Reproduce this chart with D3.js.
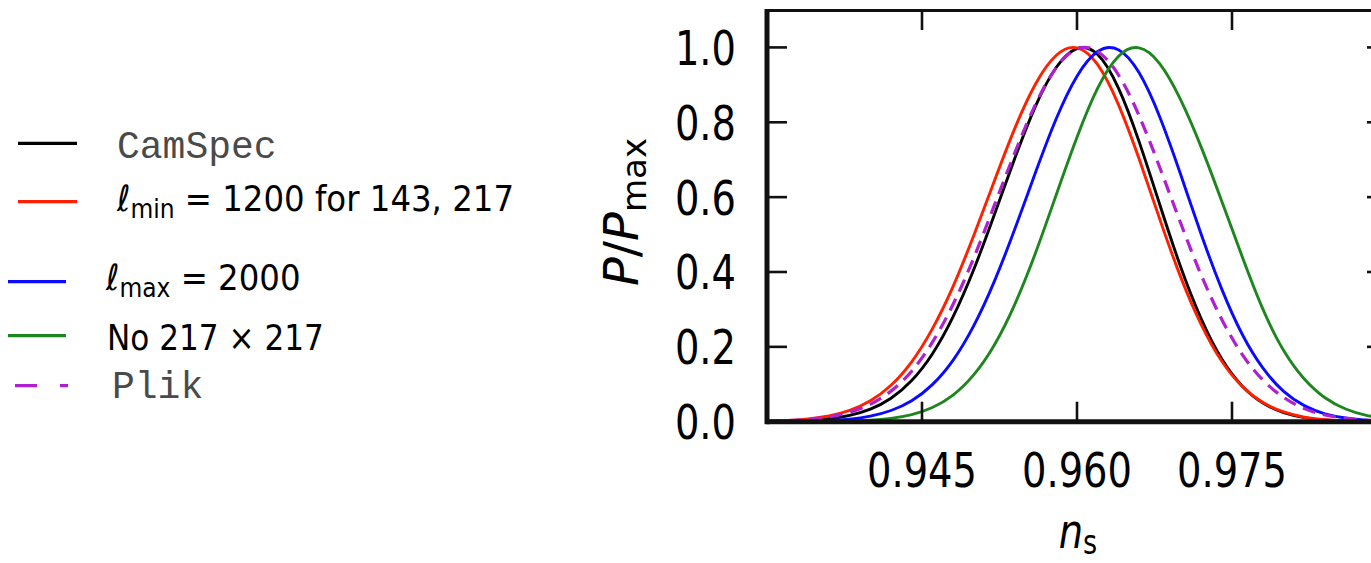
<!DOCTYPE html>
<html><head><meta charset="utf-8">
<script src="https://cdn.jsdelivr.net/npm/d3@7"></script>
<style>html,body{margin:0;padding:0;background:#fff;overflow:hidden}</style>
</head><body>
<svg id="chart" width="1371" height="563"></svg>
<script>
// ---- data ----
const nsGrid = [0.930,0.932,0.934,0.936,0.938,0.940,0.942,0.944,0.946,0.948,0.950,0.952,0.954,0.956,0.958,0.960,0.962,0.964,0.966,0.968,0.970,0.972,0.974,0.976,0.978,0.980,0.982,0.984,0.986,0.988,0.990];
const camspec = [0.0006,0.0014,0.0035,0.0078,0.0167,0.0334,0.0626,0.110,0.181,0.280,0.406,0.553,0.705,0.844,0.947,0.997,0.981,0.892,0.749,0.581,0.416,0.276,0.168,0.095,0.050,0.024,0.011,0.0044,0.0017,0.0006,0.0002];
const lmin1200 = [0.0014,0.0033,0.0074,0.0153,0.0302,0.0558,0.0973,0.160,0.248,0.361,0.497,0.643,0.785,0.903,0.979,0.999,0.954,0.848,0.703,0.542,0.389,0.261,0.162,0.094,0.051,0.026,0.012,0.0052,0.0021,0.0008,0.0003];
const lmax2000 = [0.0002,0.0005,0.0013,0.0031,0.0070,0.0149,0.0299,0.056,0.099,0.164,0.256,0.375,0.516,0.667,0.810,0.923,0.989,0.994,0.933,0.815,0.663,0.502,0.355,0.233,0.143,0.081,0.043,0.021,0.0099,0.0042,0.0017];
const no217 = [0.0000,0.0001,0.0002,0.0006,0.0015,0.0038,0.0088,0.0189,0.0379,0.0712,0.125,0.205,0.315,0.452,0.607,0.760,0.891,0.976,0.999,0.957,0.862,0.735,0.590,0.440,0.300,0.190,0.114,0.064,0.034,0.017,0.008];
const plik = [0.0012,0.0028,0.0062,0.0128,0.0251,0.0466,0.0817,0.135,0.212,0.313,0.437,0.578,0.720,0.849,0.946,0.996,0.989,0.927,0.818,0.680,0.533,0.393,0.274,0.179,0.111,0.065,0.035,0.018,0.009,0.004,0.002];
const xTicks = [0.945, 0.960, 0.975];
const yTicks = [0.0, 0.2, 0.4, 0.6, 0.8, 1.0];
const xDomain = [0.930, 0.990];
const yDomain = [0, 1.1];

const series = [
  {name: "camspec", values: camspec, color: "#000000", dash: null},
  {name: "lmin", values: lmin1200, color: "#ff2000", dash: null},
  {name: "lmax", values: lmax2000, color: "#0a0aff", dash: null},
  {name: "no217", values: no217, color: "#1e861e", dash: null},
  {name: "plik", values: plik, color: "#b020d0", dash: "13,8"}
];

const svg = d3.select("#chart");
const x = d3.scaleLinear().domain(xDomain).range([767, 1387]);
const y = d3.scaleLinear().domain(yDomain).range([421.7, 10]);
const FONT = "'DejaVu Sans', sans-serif";

// curves
const line = d3.line().x((d,i)=>x(nsGrid[i])).y(d=>y(d)).curve(d3.curveNatural);
const gCurves = svg.append("g");
series.forEach(s => {
  gCurves.append("path").attr("d", line(s.values))
    .attr("fill","none").attr("stroke", s.color).attr("stroke-width", s.dash ? 3.2 : 2.9)
    .attr("stroke-dasharray", s.dash);
});

// frame
const gAx = svg.append("g").attr("stroke", "#111");
gAx.append("line").attr("x1", x.range()[0]).attr("x2", x.range()[1]).attr("y1", y(yDomain[1])+0.5).attr("y2", y(yDomain[1])+0.5).attr("stroke-width", 3);
gAx.append("line").attr("x1", x.range()[1]).attr("x2", x.range()[1]).attr("y1", y(yDomain[1])).attr("y2", y(0)).attr("stroke-width", 3);
gAx.append("line").attr("x1", x.range()[0]).attr("x2", x.range()[1]+3).attr("y1", y(0)).attr("y2", y(0)).attr("stroke-width", 5);
gAx.append("line").attr("x1", x.range()[0]).attr("x2", x.range()[0]).attr("y1", y(yDomain[1])-1).attr("y2", y(0)+2.5).attr("stroke-width", 5);

// ticks
const TL = 20;
yTicks.forEach(t => {
  gAx.append("line").attr("x1", x.range()[0]).attr("x2", x.range()[0]+TL).attr("y1", y(t)).attr("y2", y(t)).attr("stroke-width", 2.6);
  gAx.append("line").attr("x1", x.range()[1]).attr("x2", x.range()[1]-TL).attr("y1", y(t)).attr("y2", y(t)).attr("stroke-width", 2.6);
});
xTicks.forEach(t => {
  gAx.append("line").attr("x1", x(t)).attr("x2", x(t)).attr("y1", y(0)).attr("y2", y(0)-TL).attr("stroke-width", 2.6);
  gAx.append("line").attr("x1", x(t)).attr("x2", x(t)).attr("y1", y(yDomain[1])).attr("y2", y(yDomain[1])+TL).attr("stroke-width", 2.6);
});

// tick labels (horizontally condensed like the reference)
const SX = 0.8;
yTicks.forEach(t => {
  svg.append("text").attr("transform", `translate(736,${y(t)+17.5}) scale(${SX},1)`)
    .attr("text-anchor","end").attr("font-family",FONT).attr("font-size",48).attr("fill","#000")
    .text(d3.format(".1f")(t));
});
xTicks.forEach(t => {
  svg.append("text").attr("transform", `translate(${x(t)},487) scale(${SX},1)`)
    .attr("text-anchor","middle").attr("font-family",FONT).attr("font-size",48).attr("fill","#000")
    .text(d3.format(".3f")(t));
});

// axis labels
const yl = svg.append("text").attr("transform","translate(638,212) rotate(-90)")
  .attr("text-anchor","middle").attr("font-family",FONT).attr("font-size",48).attr("fill","#000");
yl.append("tspan").attr("font-style","italic").text("P");
yl.append("tspan").text("/");
yl.append("tspan").attr("font-style","italic").text("P");
yl.append("tspan").attr("font-size",34).attr("dy",8).text("max");

const xl = svg.append("text").attr("transform","translate(1078,548) scale(0.8,1)")
  .attr("text-anchor","middle").attr("font-family",FONT).attr("font-size",48).attr("fill","#000");
xl.append("tspan").attr("font-style","italic").text("n");
xl.append("tspan").attr("font-size",34).attr("dy",6).text("s");

// legend
const legendItems = [
  {x1:18, x2:77, ly:143.3, tx:117, ty:158, color:"#000000", dash:null, kind:"mono", text:"CamSpec"},
  {x1:18, x2:77, ly:201.7, tx:117, ty:211, color:"#ff2000", dash:null, kind:"ell", sub:"min", rest:" = 1200 for 143, 217"},
  {x1:8, x2:66, ly:281.7, tx:106, ty:290, color:"#0a0aff", dash:null, kind:"ell", sub:"max", rest:" = 2000"},
  {x1:8, x2:66, ly:335.7, tx:107, ty:350, color:"#1e861e", dash:null, kind:"plain", text:"No 217 \u00d7 217"},
  {x1:15, x2:68, ly:385.7, tx:112, ty:398, color:"#b020d0", dash:"22,23", kind:"mono", text:"Plik"}
];
const LSX = 0.9;
legendItems.forEach(it => {
  svg.append("line").attr("x1",it.x1).attr("x2",it.x2).attr("y1",it.ly).attr("y2",it.ly)
    .attr("stroke",it.color).attr("stroke-width",3.2).attr("stroke-dasharray",it.dash);
  if (it.kind === "mono") {
    svg.append("text").attr("x",it.tx).attr("y",it.ty)
      .attr("font-family","'Liberation Mono', 'DejaVu Sans Mono', monospace").attr("font-size",38)
      .attr("fill","#4a4a4a").text(it.text);
  } else if (it.kind === "ell") {
    const t = svg.append("text").attr("transform",`translate(${it.tx},${it.ty}) scale(${LSX},1)`)
      .attr("font-family",FONT).attr("font-size",36).attr("fill","#000");
    t.append("tspan").attr("font-style","italic").text("\u2113");
    t.append("tspan").attr("font-size",26).attr("dy",7).text(it.sub);
    t.append("tspan").attr("dy",-7).text(it.rest);
  } else {
    svg.append("text").attr("transform",`translate(${it.tx},${it.ty}) scale(0.865,1)`)
      .attr("font-family",FONT).attr("font-size",36).attr("fill","#000").text(it.text);
  }
});
</script>
</body></html>
